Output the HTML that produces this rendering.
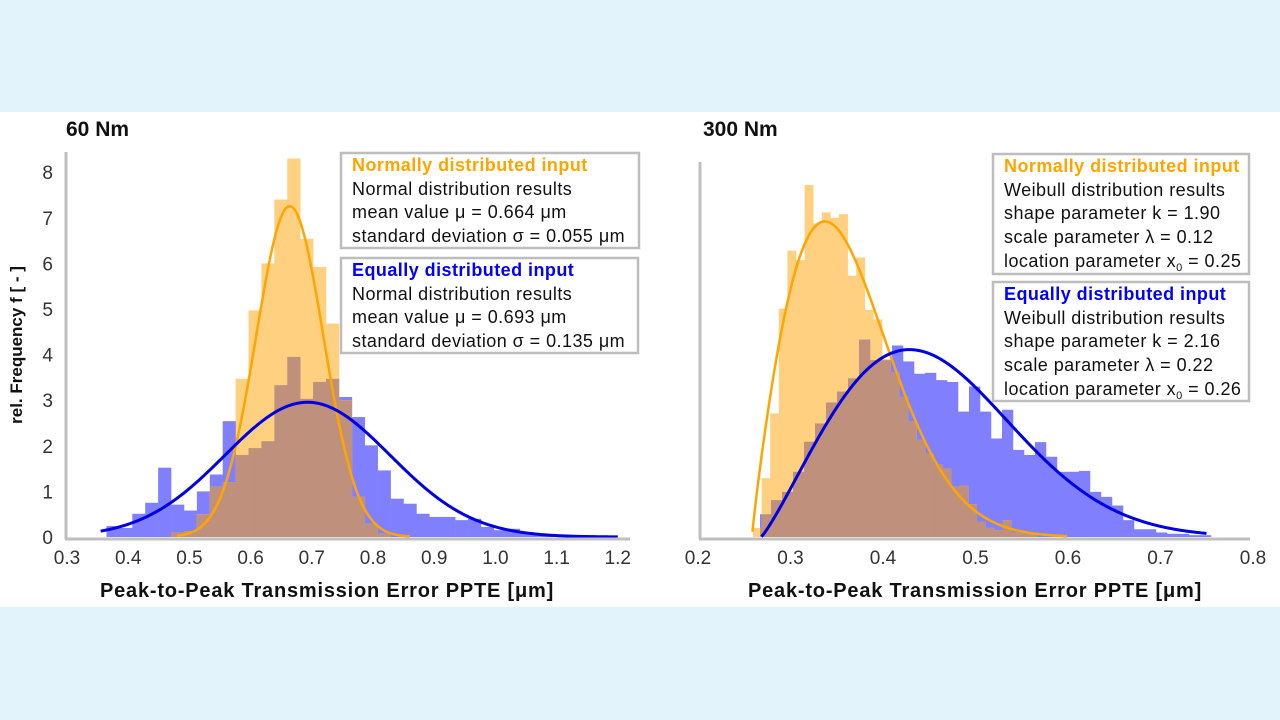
<!DOCTYPE html>
<html><head><meta charset="utf-8">
<style>
body{margin:0;width:1280px;height:720px;background:#e3f3fb;font-family:"Liberation Sans",Arial,sans-serif;overflow:hidden}
svg{display:block}
.lg{font-size:18px;letter-spacing:0.45px}
</style></head>
<body>
<svg width="1280" height="720" xmlns="http://www.w3.org/2000/svg">
<rect x="0" y="112" width="1280" height="495" fill="#ffffff"/>
<text x="66" y="136" font-size="21" font-weight="bold" fill="#111">60 Nm</text>
<text x="703" y="136" font-size="21" font-weight="bold" fill="#111">300 Nm</text>
<text transform="translate(22,345) rotate(-90)" text-anchor="middle" font-size="17" font-weight="bold" fill="#111">rel. Frequency f  [ - ]</text>
<defs>
<clipPath id="clipL"></clipPath>
<clipPath id="clipR"></clipPath>
</defs>
<g id="left"></g>
<g id="right"></g>
<g id="axes"></g>
<g>
<rect x="341" y="153" width="298" height="95" fill="#fff" stroke="#bdbdbd" stroke-width="2.5"/>
<text class="lg" x="352" y="171" font-weight="bold" fill="#ffa500">Normally distributed input</text>
<text class="lg" x="352" y="195" fill="#111">Normal distribution results</text>
<text class="lg" x="352" y="218" fill="#111">mean value μ = 0.664 μm</text>
<text class="lg" x="352" y="242" fill="#111">standard deviation σ = 0.055 μm</text>
</g>
<g>
<rect x="341" y="258" width="297" height="95" fill="#fff" stroke="#bdbdbd" stroke-width="2.5"/>
<text class="lg" x="352" y="276" font-weight="bold" fill="#0000ff">Equally distributed input</text>
<text class="lg" x="352" y="300" fill="#111">Normal distribution results</text>
<text class="lg" x="352" y="323" fill="#111">mean value μ = 0.693 μm</text>
<text class="lg" x="352" y="347" fill="#111">standard deviation σ = 0.135 μm</text>
</g>
<g>
<rect x="993" y="154" width="256" height="120" fill="#fff" stroke="#bdbdbd" stroke-width="2.5"/>
<text class="lg" x="1004" y="172" font-weight="bold" fill="#ffa500">Normally distributed input</text>
<text class="lg" x="1004" y="196" fill="#111">Weibull distribution results</text>
<text class="lg" x="1004" y="219" fill="#111">shape parameter k = 1.90</text>
<text class="lg" x="1004" y="243" fill="#111">scale parameter λ = 0.12</text>
<text class="lg" x="1004" y="267" fill="#111">location parameter x<tspan font-size="11" dy="4">0</tspan><tspan dy="-4"> = 0.25</tspan></text>
</g>
<g>
<rect x="993" y="282" width="256" height="119" fill="#fff" stroke="#bdbdbd" stroke-width="2.5"/>
<text class="lg" x="1004" y="300" font-weight="bold" fill="#0000ff">Equally distributed input</text>
<text class="lg" x="1004" y="324" fill="#111">Weibull distribution results</text>
<text class="lg" x="1004" y="347" fill="#111">shape parameter k = 2.16</text>
<text class="lg" x="1004" y="371" fill="#111">scale parameter λ = 0.22</text>
<text class="lg" x="1004" y="395" fill="#111">location parameter x<tspan font-size="11" dy="4">0</tspan><tspan dy="-4"> = 0.26</tspan></text>
</g>
<text x="327" y="597" text-anchor="middle" font-size="20" letter-spacing="0.8" font-weight="bold" fill="#111">Peak-to-Peak Transmission Error PPTE [μm]</text>
<text x="975" y="597" text-anchor="middle" font-size="20" letter-spacing="0.8" font-weight="bold" fill="#111">Peak-to-Peak Transmission Error PPTE [μm]</text>
</svg>
<script>
// ---- data ----
const leftBinStart = 0.3645, leftBinWidth = 0.0211;
const leftBlue = [0.24,0.2,0.51,0.75,1.52,0.71,0.58,1.0,1.37,2.54,1.8,1.95,2.1,3.33,3.95,3.03,3.4,3.47,3.07,2.63,2.01,1.46,0.84,0.73,0.51,0.44,0.44,0.37,0.4,0.22,0.15,0.18,0.11,0.07,0.04,0.04,0.04,0.04];
const leftOrange = [0,0,0,0,0,0.1,0.13,0.5,1.1,1.2,3.47,4.97,6.0,7.4,8.3,6.54,5.92,4.68,3.0,0.88,0.29,0.07];
const leftOrangeMu = 0.664, leftOrangeSigma = 0.055;
const leftBlueMu = 0.693, leftBlueSigma = 0.135;
const rightOrangeStart = 0.2511, rightOrangeWidth = 0.00956;
const rightOrange = [0.2,1.29,2.71,5.01,6.28,6.07,7.72,6.88,7.12,7.0,7.08,5.73,6.13,4.98,4.77,3.9,3.6,3.08,2.53,2.13,1.83,1.6,1.5,1.1,1.13,0.72,0.34,0.2,0.15,0.37,0.12,0.08,0.05];
const rightBlueStart = 0.2589, rightBlueWidth = 0.01222;
const rightBlue = [0.5,0.81,0.99,1.43,2.09,2.49,2.95,3.19,3.48,4.33,3.88,3.88,4.2,3.85,3.58,3.6,3.44,3.4,2.75,3.3,2.75,2.16,2.79,1.91,1.8,2.08,1.76,1.43,1.43,1.45,0.99,0.88,0.69,0.37,0.17,0.17,0.1,0.07,0.07,0.04,0.04];
const rightOrangeK = 1.90, rightOrangeL = 0.12, rightOrangeX0 = 0.25;
const rightBlueK = 2.16, rightBlueL = 0.22, rightBlueX0 = 0.26;
const leftXTicks = ["0.3","0.4","0.5","0.6","0.7","0.8","0.9","1.0","1.1","1.2"];
const rightXTicks = ["0.2","0.3","0.4","0.5","0.6","0.7","0.8"];
const yTicks = ["0","1","2","3","4","5","6","7","8"];
// ---- scales ----
const NS="http://www.w3.org/2000/svg";
const y = v => 537 - v*45.6;
const xL = v => 67 + (v-0.3)*612;
const xR = v => 698 + (v-0.2)*925;
const xRd = v => 752 + (v-0.25)*900;   // plotted data area of right panel
function mk(tag, attrs, parent){const e=document.createElementNS(NS,tag);for(const k in attrs)e.setAttribute(k,attrs[k]);parent.appendChild(e);return e;}
function bars(parent, vals, start, w, sx, fill, name){
  vals.forEach((v,i)=>{ if(v<=0) return;
    const x0=sx(start+i*w), x1=sx(start+(i+1)*w);
    const r=mk('rect',{x:x0,y:y(v),width:x1-x0+0.3,height:537-y(v),fill:fill},parent);
    
    
  });
}
function curve(parent, f, a, b, sx, color, w, name){
  let d='';for(let i=0;i<=300;i++){const v=a+(b-a)*i/300;d+=(i?'L':'M')+sx(v).toFixed(2)+','+y(f(v)).toFixed(2);}
  const p=mk('path',{d:d,fill:'none',stroke:color,'stroke-width':w},parent);
  
  
}
const normal=(mu,s)=>x=>Math.exp(-0.5*((x-mu)/s)**2)/(s*Math.sqrt(2*Math.PI));
const weib=(k,l,x0)=>x=>{const t=(x-x0)/l;if(t<=0)return 0;return (k/l)*Math.pow(t,k-1)*Math.exp(-Math.pow(t,k));};
const L=document.getElementById('left'), R=document.getElementById('right');
bars(L,leftBlue,leftBinStart,leftBinWidth,xL,'#8080ff','left-blue-bar');
bars(L,leftOrange,leftBinStart,leftBinWidth,xL,'#ffd080','left-orange-bar');
bars(document.getElementById('clipL'),leftOrange,leftBinStart,leftBinWidth,xL,'#000','clip-rect');
const ovL=mk('g',{'clip-path':'url(#clipL)'},L);
bars(ovL,leftBlue,leftBinStart,leftBinWidth,xL,'#bf917d','left-overlap-bar');
curve(L,normal(leftOrangeMu,leftOrangeSigma),0.48,0.86,xL,'#ffa500',2.5,'left-orange-fit-curve');
curve(L,normal(leftBlueMu,leftBlueSigma),0.355,1.2,xL,'#0000e0',3,'left-blue-fit-curve');
bars(R,rightBlue,rightBlueStart,rightBlueWidth,xRd,'#8080ff','right-blue-bar');
bars(R,rightOrange,rightOrangeStart,rightOrangeWidth,xRd,'#ffd080','right-orange-bar');
bars(document.getElementById('clipR'),rightOrange,rightOrangeStart,rightOrangeWidth,xRd,'#000','clip-rect');
const ovR=mk('g',{'clip-path':'url(#clipR)'},R);
bars(ovR,rightBlue,rightBlueStart,rightBlueWidth,xRd,'#bf917d','right-overlap-bar');
curve(R,weib(rightOrangeK,rightOrangeL,rightOrangeX0),0.2505,0.6,xRd,'#ffa500',2.5,'right-orange-fit-curve');
curve(R,weib(rightBlueK,rightBlueL,rightBlueX0),0.2605,0.755,xRd,'#0000e0',3,'right-blue-fit-curve');
const A=document.getElementById('axes');
let e;
e=mk('line',{x1:66,y1:152,x2:66,y2:539,stroke:'#bfbfbf','stroke-width':3},A);


e=mk('line',{x1:65,y1:539,x2:630,y2:539,stroke:'#bfbfbf','stroke-width':3},A);


e=mk('line',{x1:700,y1:162,x2:700,y2:539,stroke:'#bfbfbf','stroke-width':3},A);


e=mk('line',{x1:699,y1:539,x2:1250,y2:539,stroke:'#bfbfbf','stroke-width':3},A);


yTicks.forEach(t=>{const el=mk('text',{x:53,y:y(+t)+7,'text-anchor':'end','font-size':19,fill:'#333'},A);el.textContent=t;
  
  });
leftXTicks.forEach(t=>{const el=mk('text',{x:xL(+t),y:564,'text-anchor':'middle','font-size':19,fill:'#333'},A);el.textContent=t;
  
  });
rightXTicks.forEach(t=>{const el=mk('text',{x:xR(+t),y:564,'text-anchor':'middle','font-size':19,fill:'#333'},A);el.textContent=t;
  
  });
</script>
</body></html>
